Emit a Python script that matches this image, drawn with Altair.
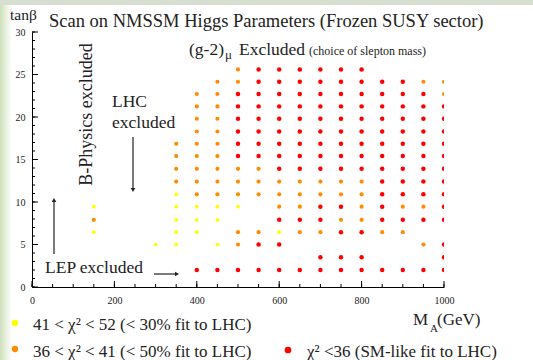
import altair as alt
import pandas as pd

# ---------------- data ----------------
row_tanb = [25.6, 24.15, 22.7, 21.25, 19.8, 18.3, 16.85, 15.4, 13.9, 12.4,
            10.9, 9.45, 7.9, 6.45, 5.0, 3.5, 2.0]
row_ma = [
    [500, 550, 600, 650, 700, 750, 800],
    [450, 500, 550, 600, 650, 700, 750, 800, 850, 900, 950, 1000],
    [400, 450, 500, 550, 600, 650, 700, 750, 800, 850, 900, 950, 1000],
    [400, 450, 500, 550, 600, 650, 700, 750, 800, 850, 900, 950, 1000],
    [400, 450, 500, 550, 600, 650, 700, 750, 800, 850, 900, 950, 1000],
    [400, 450, 500, 550, 600, 650, 700, 750, 800, 850, 900, 950, 1000],
    [350, 400, 450, 500, 550, 600, 650, 700, 750, 800, 850, 900, 950, 1000],
    [350, 400, 450, 500, 550, 600, 650, 700, 750, 800, 850, 900, 950, 1000],
    [350, 400, 450, 500, 550, 600, 650, 700, 750, 800, 850, 900, 950, 1000],
    [350, 400, 450, 500, 550, 600, 650, 700, 750, 800, 850, 900, 950, 1000],
    [350, 400, 450, 500, 550, 600, 650, 700, 750, 800, 850, 900, 950, 1000],
    [150, 350, 400, 450, 500, 600, 650, 700, 750, 800, 850, 900, 950, 1000],
    [150, 350, 400, 450, 600, 650, 700, 750, 800, 850, 900, 950, 1000],
    [150, 350, 400, 500, 550, 600, 650, 700, 750, 800, 850, 900],
    [300, 350, 450, 500, 550, 600, 950, 1000],
    [700, 750, 800, 1000],
    [400, 450, 500, 550, 600, 650, 700, 750, 800, 850, 900, 950, 1000],
]
# Y: 41<chi2<52, O: 36<chi2<41, R: chi2<36
row_cls = [
    "ORRRRRR",
    "OORRRRRRRROO",
    "OORRRRRRRRRRO",
    "OORRRRRRRRRRR",
    "OORRRRRRRRRRR",
    "OORRRRRRRRRRR",
    "OOORRRRRRRRRRR",
    "OOORRRRRRRRRRR",
    "OOOOORRRRRRRRR",
    "OOOOOOOOOORRRR",
    "YOOOOOOOOORRRR",
    "YYYYYOORROROOR",
    "OYYYRRROORRRR",
    "YYYOOYOORROO",
    "YYYORROR",
    "RRRR",
    "RRRRRRRRRRRRR",
]

x_major = [0, 200, 400, 600, 800, 1000]
x_minor = list(range(0, 1001, 50))
y_major = [0, 5, 10, 15, 20, 25, 30]
y_minor = list(range(0, 31))

ma, tb, cl = [], [], []
for t, xs, cs in zip(row_tanb, row_ma, row_cls):
    for x, c in zip(xs, cs):
        ma.append(x)
        tb.append(t)
        cl.append(c)
pts = pd.DataFrame({"MA": ma, "tanb": tb, "cls": cl})

# ---------------- style ----------------
FONT = "Liberation Serif"
INK = "#222222"
W, H = 412, 255
YEL, ORA, RED = "#ffff00", "#ff8c00", "#ff0000"

xsc = alt.Scale(domain=[0, 1000], nice=False, zero=False)
ysc = alt.Scale(domain=[0, 30], nice=False, zero=False)
xax = alt.Axis(values=x_major, title=None, ticks=False, grid=False, format="d",
               labelFont=FONT, labelFontSize=10, labelColor=INK,
               labelPadding=8, domainColor="#000", labelFlush=False)
yax = alt.Axis(values=y_major, title=None, ticks=False, grid=False, format="d",
               labelFont=FONT, labelFontSize=10, labelColor=INK,
               labelPadding=7, domainColor="#000", labelFlush=False)

dots = alt.Chart(pts).mark_circle(opacity=1, clip=True).encode(
    x=alt.X("MA:Q", scale=xsc, axis=xax),
    y=alt.Y("tanb:Q", scale=ysc, axis=yax),
    color=alt.Color("cls:N", scale=alt.Scale(domain=["Y", "O", "R"],
                                             range=[YEL, ORA, RED]), legend=None),
    size=alt.Size("cls:N", scale=alt.Scale(domain=["Y", "O", "R"],
                                           range=[14, 20, 25]), legend=None),
)


def xticks(vals, ln):
    return alt.Chart(pd.DataFrame({"v": vals})).mark_rule(color="#000", strokeWidth=1).encode(
        x=alt.X("v:Q", scale=xsc, axis=xax), y=alt.value(H), y2=alt.value(H - ln))


def yticks(vals, ln):
    return alt.Chart(pd.DataFrame({"v": vals})).mark_rule(color="#000", strokeWidth=1).encode(
        y=alt.Y("v:Q", scale=ysc, axis=yax), x=alt.value(0), x2=alt.value(ln))


def txt(label, x, y, size, align="left", angle=0, baseline="alphabetic", color=INK):
    kw = dict(font=FONT, fontSize=size, align=align, baseline=baseline, color=color)
    if angle:
        kw["angle"] = angle
    return alt.Chart(pd.DataFrame({"t": [label]})).mark_text(**kw).encode(
        text="t:N", x=alt.value(x), y=alt.value(y))


def rule(x, y, x2, y2):
    return alt.Chart(pd.DataFrame({"a": [0]})).mark_rule(color=INK, strokeWidth=1.2).encode(
        x=alt.value(x), y=alt.value(y), x2=alt.value(x2), y2=alt.value(y2))


def head(x, y, shape, size=22, color=INK):
    return alt.Chart(pd.DataFrame({"a": [0]})).mark_point(
        shape=shape, filled=True, opacity=1, color=color, size=size).encode(
        x=alt.value(x), y=alt.value(y))


def dot(x, y, color, size):
    return alt.Chart(pd.DataFrame({"a": [0]})).mark_circle(
        color=color, opacity=1, size=size).encode(x=alt.value(x), y=alt.value(y))


grad = alt.LinearGradient(gradient="linear", x1=0, x2=1, y1=0, y2=0,
                          stops=[alt.GradientStop(color="#cfe0bb", offset=0),
                                 alt.GradientStop(color="#ffffff", offset=1)])
left_strip = alt.Chart(pd.DataFrame({"a": [0]})).mark_rect(fill=grad).encode(
    x=alt.value(-32), x2=alt.value(-20), y=alt.value(-32), y2=alt.value(328))
top_strip = alt.Chart(pd.DataFrame({"a": [0]})).mark_rect(fill="#d6dfd0").encode(
    x=alt.value(-32), x2=alt.value(501), y=alt.value(-32), y2=alt.value(-27))

layers = [
    xticks(x_minor, 3), xticks(x_major, 6), yticks(y_minor, 3), yticks(y_major, 6),
    dots,
    left_strip, top_strip,
    # header
    txt("tanβ", -22, -12, 15.5),
    txt("Scan on NMSSM Higgs Parameters  (Frozen SUSY sector)", 17, -5.5, 18.5),
    txt("(g-2)", 157, 23, 17.5),
    txt("μ", 193, 27, 13),
    txt("Excluded", 207, 23, 17.5),
    txt("(choice of slepton mass)", 277, 23, 12),
    # annotations
    txt("B-Physics excluded", 60, 82.5, 18, align="center", angle=270),
    txt("LHC", 80, 75, 17.5),
    txt("excluded", 80, 96, 17.5),
    rule(101, 105, 101, 158), head(101, 158, "triangle-down"),
    rule(22, 222, 22, 168), head(22, 168, "triangle-up"),
    txt("LEP excluded", 13, 241, 17.5),
    rule(122, 242, 145, 242), head(145, 242, "triangle-right"),
    # axis title
    txt("M", 381, 293, 17),
    txt("A", 398, 300, 11),
    txt("(GeV)", 405, 293, 17),
    # legend
    dot(-17, 291, YEL, 40),
    txt("41 < χ² < 52 (< 30% fit to LHC)", 1, 298, 17),
    dot(-17, 317, ORA, 40),
    txt("36 <  χ² < 41 (< 50% fit to LHC)", 1, 325, 17),
    dot(256, 318, RED, 45),
    txt("χ²  <36  (SM-like fit to LHC)", 275, 325, 17),
]

chart = alt.layer(*layers).properties(
    width=W, height=H,
    autosize=alt.AutoSizeParams(type="none"),
    padding={"left": 32, "top": 32, "right": 89, "bottom": 73},
    background="#ffffff",
).configure_view(stroke=None).configure_axis(labelFont=FONT, labelFontSize=10)

chart.save("out.html", embed_options={"renderer": "svg", "actions": False})
